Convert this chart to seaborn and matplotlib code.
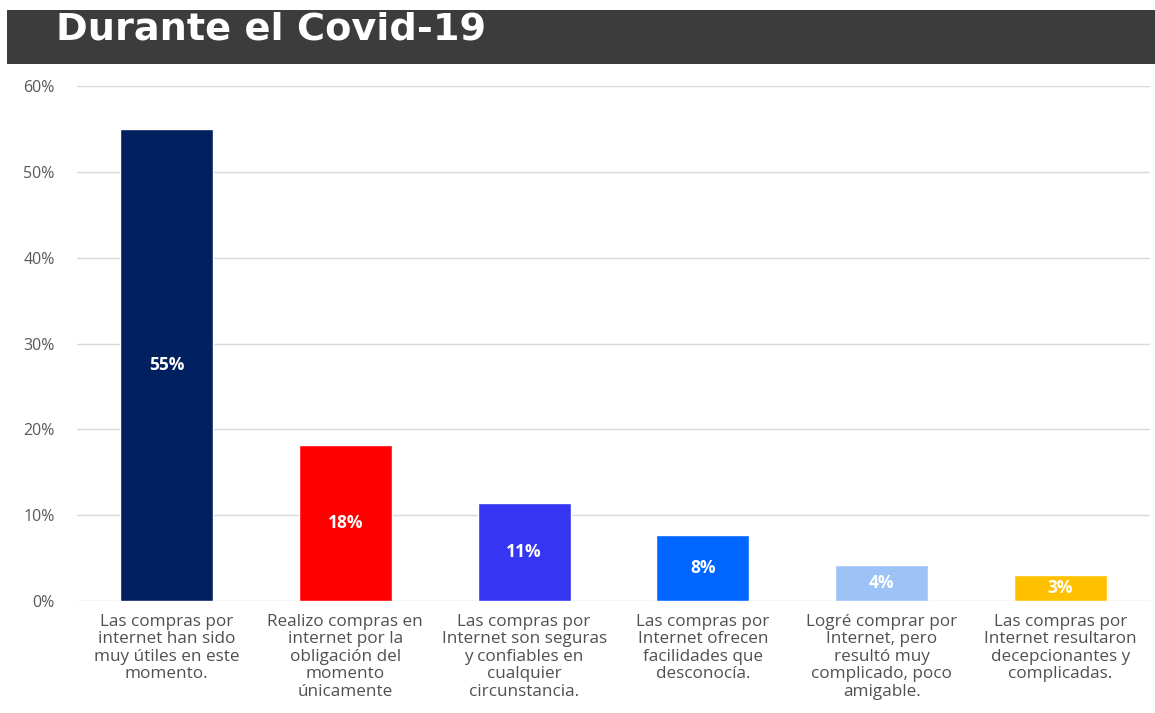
import matplotlib
matplotlib.use("Agg")
import matplotlib.pyplot as plt
from matplotlib.patches import Rectangle
import seaborn as sns
import pandas as pd

categories = [
    "Las compras por\ninternet han sido\nmuy útiles en este\nmomento.",
    "Realizo compras en\ninternet por la\nobligación del\nmomento\núnicamente",
    "Las compras por\nInternet son seguras\ny confiables en\ncualquier\ncircunstancia.",
    "Las compras por\nInternet ofrecen\nfacilidades que\ndesconocía.",
    "Logré comprar por\nInternet, pero\nresultó muy\ncomplicado, poco\namigable.",
    "Las compras por\nInternet resultaron\ndecepcionantes y\ncomplicadas.",
]
values = [55.0, 18.2, 11.4, 7.7, 4.2, 3.0]
colors = ["#002060", "#FF0000", "#3535F2", "#0066FF", "#9DC3F6", "#FFC000"]
yticks = [0, 10, 20, 30, 40, 50, 60]
title = "Durante el Covid-19"

df = pd.DataFrame({"cat": categories, "val": values})

sns.set_theme(style="white")
plt.rcParams["font.family"] = ["Open Sans", "DejaVu Sans"]

fig = plt.figure(figsize=(11.55, 7.13), dpi=100)
fig.patch.set_facecolor("white")

# dark header band with the title
fig.patches.append(Rectangle((7 / 1155, 1 - 64 / 713), 1, 54 / 713,
                             transform=fig.transFigure, facecolor="#3c3c3c",
                             edgecolor="none", zorder=0))
fig.text(56 / 1155, 1 - 29 / 713, title, color="white", fontsize=27.5,
         fontweight="bold", family=["DejaVu Sans"], va="center", ha="left")

ax = fig.add_axes([77 / 1155, 1 - 601 / 713, 1073 / 1155, 515 / 713])
sns.barplot(data=df, x="cat", y="val", hue="cat", palette=colors,
            legend=False, width=0.52, saturation=1, ax=ax, zorder=3)

ax.set_ylim(0, 60)
ax.set_yticks(yticks)
ax.set_yticklabels([f"{t}%" for t in yticks], color="#595959", fontsize=11.5)
ax.yaxis.grid(True, color="#d9d9d9", linewidth=1)
ax.set_axisbelow(True)
for s in ax.spines.values():
    s.set_visible(False)
ax.tick_params(axis="y", length=0, pad=16)
ax.tick_params(axis="x", length=0, pad=9)
for lbl in ax.get_xticklabels():
    lbl.set_color("#505050")
    lbl.set_fontsize(12.3)
    lbl.set_linespacing(1.13)
ax.set_xlabel("")
ax.set_ylabel("")

for i, v in enumerate(values):
    ax.text(i, v / 2, f"{v:.0f}%", ha="center", va="center", color="white",
            fontsize=12.5, fontweight="bold", zorder=5)

fig.savefig("out.png", dpi=100)
